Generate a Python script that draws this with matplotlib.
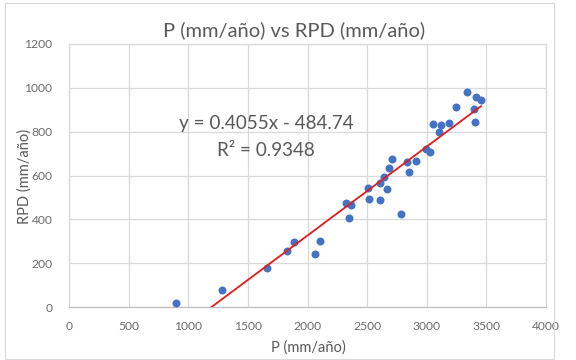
import matplotlib
matplotlib.use("Agg")
import matplotlib.pyplot as plt
from matplotlib.patches import Rectangle
import numpy as np

# Annual precipitation P and RPD (mm/año)
p_mm = [895, 1286, 1658, 1831, 1890, 2063, 2105, 2321, 2363, 2351,
        2510, 2519, 2608, 2608, 2645, 2665, 2684, 2707, 2785, 2832,
        2852, 2910, 2992, 3028, 3050, 3103, 3120, 3187, 3248, 3335,
        3400, 3408, 3414, 3455]
rpd_mm = [20, 78, 179, 255, 295, 241, 303, 473, 466, 408,
          545, 492, 565, 489, 594, 538, 634, 676, 424, 661,
          615, 666, 722, 707, 836, 798, 832, 840, 913, 982,
          905, 844, 959, 943]

# Linear trendline coefficients
slope = 0.4055
intercept = -484.74
r2 = 0.9348

x_ticks = [0, 500, 1000, 1500, 2000, 2500, 3000, 3500, 4000]
y_ticks = [0, 200, 400, 600, 800, 1000, 1200]

TEXT = "#595959"
TICK = "#6b6b6b"
GRID = "#d9d9d9"
FONT = "Lato"

plt.rcParams["font.family"] = [FONT, "DejaVu Sans"]

W, H = 576, 360
fig = plt.figure(figsize=(W / 100, H / 100), dpi=100)
fig.patch.set_facecolor("white")

# chart-area frame
fig.patches.append(Rectangle((5 / W, 1 - 359 / H), 549 / W, 356 / H,
                             transform=fig.transFigure, fill=False,
                             edgecolor=GRID, linewidth=0.8))

left, right, top, bottom = 69, 546, 44, 307
ax = fig.add_axes([left / W, 1 - bottom / H, (right - left) / W, (bottom - top) / H])

ax.scatter(p_mm, rpd_mm, s=33, color="#4472C4", zorder=3, linewidths=0)

xs = np.array([min(p_mm), max(p_mm)])
ax.plot(xs, slope * xs + intercept, color="#E41A1C", linewidth=1.3, zorder=4)

ax.set_xlim(0, 4000)
ax.set_ylim(0, 1200)
ax.set_xticks(x_ticks)
ax.set_yticks(y_ticks)
ax.grid(True, color=GRID, linewidth=0.9, zorder=0)
ax.set_axisbelow(True)
for name, sp in ax.spines.items():
    sp.set_color(GRID)
    sp.set_linewidth(0.9)
ax.spines["bottom"].set_color("#bfbfbf")
ax.tick_params(axis="both", length=0, colors=TICK, labelsize=8.7)
ax.tick_params(axis="x", pad=10)
ax.tick_params(axis="y", pad=12)

fig.text(294.5 / W, 1 - 30 / H, "P (mm/año) vs RPD (mm/año)", ha="center", va="center",
         fontsize=14.5, color=TEXT)
fig.text(308 / W, 1 - 348 / H, "P (mm/año)", ha="center", va="center",
         fontsize=10.5, color=TEXT)
fig.text(25 / W, 1 - 176 / H, "RPD (mm/año)", ha="center", va="center",
         rotation=90, fontsize=10.5, color=TEXT)

fig.text(266 / W, 1 - 123 / H, f"y = {slope}x - {abs(intercept)}", ha="center", va="center",
         fontsize=13.6, color=TEXT)
fig.text(266 / W, 1 - 150 / H, f"R² = {r2}", ha="center", va="center",
         fontsize=13.6, color=TEXT)

fig.savefig("out.png", dpi=100, facecolor="white")
